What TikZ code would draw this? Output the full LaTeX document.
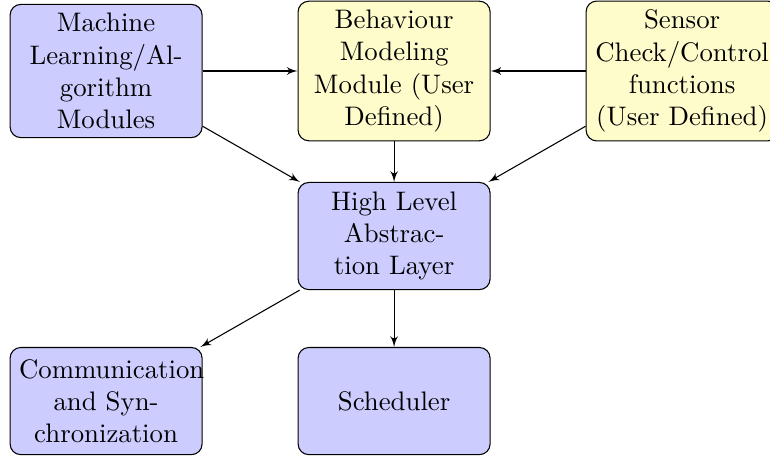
\documentclass[tikz,border=0pt]{standalone}
\usepackage{tikz}
\usetikzlibrary{positioning,arrows}

\begin{document}
\begin{tikzpicture}[node distance=107.5pt and 61.6pt, on grid,
    bluebox/.style={rectangle, draw, fill=blue!20, text width=6.5em, text centered, rounded corners, minimum height=4em},
    yellowbox/.style={rectangle, draw, fill=yellow!20, text width=6.5em, text centered, rounded corners, minimum height=4em},
    line/.style={draw, -latex'}]

    \useasboundingbox (-39.6pt,26.5pt) rectangle (247.8pt,-144.4pt);

    % top row
    \node [bluebox] (mlmod) {Machine\\ Learning/Al-\\gorithm\\ Modules};
    \node [yellowbox, right=107.5pt of mlmod] (behav) {Behaviour Modeling Module (User Defined)};
    \node [yellowbox, right=107.5pt of behav] (sensor) {Sensor Check/Control functions (User Defined)};
    % middle
    \node [bluebox, below=61.6pt of behav] (hla) {High Level Abstraction Layer};
    % bottom row
    \node [bluebox, below=61.6pt of hla] (sched) {Scheduler};
    \node [bluebox, left=107.5pt of sched] (comm) {Communication and Synchronization};

    \path [line] (mlmod) -- (behav);
    \path [line] (sensor) -- (behav);
    \path [line] (mlmod) -- (hla);
    \path [line] (behav) -- (hla);
    \path [line] (sensor) -- (hla);
    \path [line] (hla) -- (comm);
    \path [line] (hla) -- (sched);
\end{tikzpicture}
\end{document}
